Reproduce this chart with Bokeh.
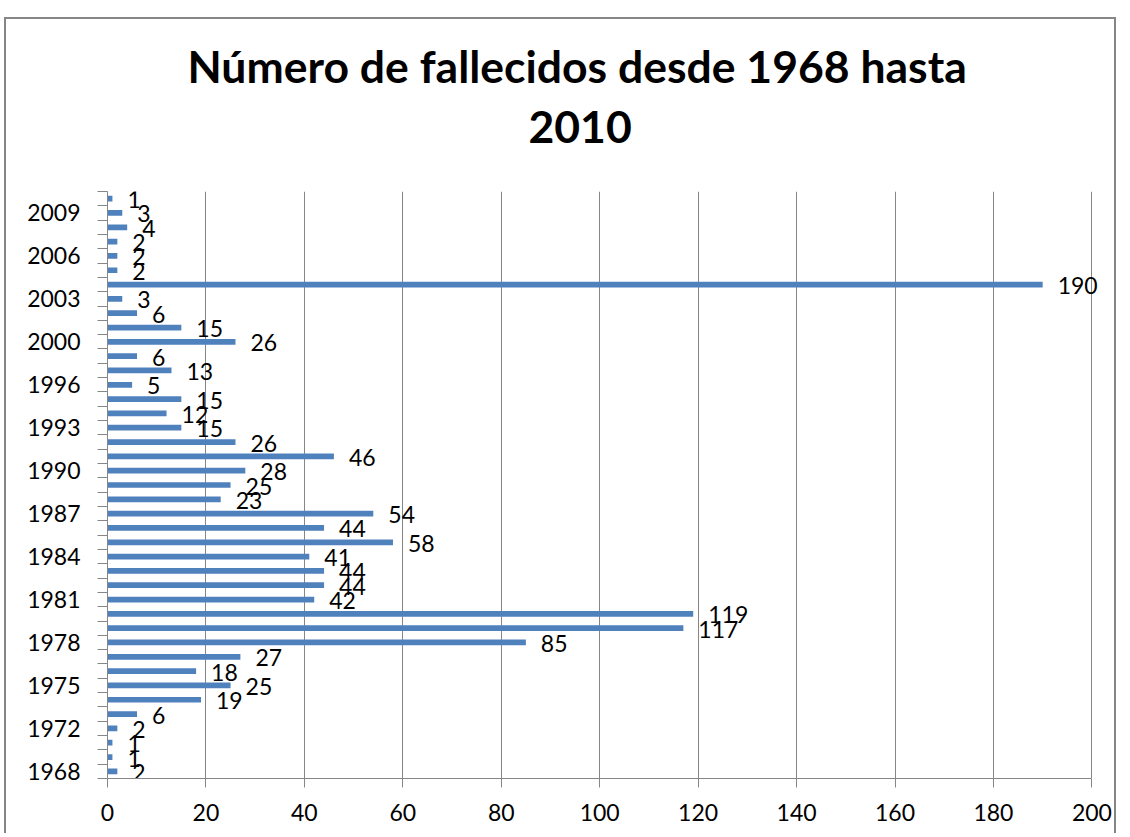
from bokeh.plotting import figure
from bokeh.models import FixedTicker, Range1d, Title
from bokeh.core.properties import value
from bokeh.embed import file_html
from bokeh.resources import INLINE

# Data (bottom to top)
years = [1968, 1970, 1971, 1972, 1973, 1974, 1975, 1976, 1977, 1978,
         1979, 1980, 1981, 1982, 1983, 1984, 1985, 1986, 1987, 1988,
         1989, 1990, 1991, 1992, 1993, 1994, 1995, 1996, 1997, 1999,
         2000, 2001, 2002, 2003, 2004, 2005, 2006, 2007, 2008, 2009, 2010]
deaths = [2, 1, 1, 2, 6, 19, 25, 18, 27, 85,
          117, 119, 42, 44, 44, 41, 58, 44, 54, 23,
          25, 28, 46, 26, 15, 12, 15, 5, 13, 6,
          26, 15, 6, 3, 190, 2, 2, 2, 4, 3, 1]
x_ticks = [0, 20, 40, 60, 80, 100, 120, 140, 160, 180, 200]
title_lines = ["Número de fallecidos desde 1968 hasta", "2010"]

FONT = "Lato"
GRAY = "#868686"

n = len(years)
idx = list(range(n))

W, H = 1112, 816
p = figure(width=W, height=H, output_backend="svg", toolbar_location=None,
           x_range=Range1d(0, 205), y_range=Range1d(-0.5, n - 0.5),
           min_border_left=101, min_border_right=2, min_border_top=172,
           min_border_bottom=57, title=None)
p.outline_line_color = None
p.background_fill_color = "white"
p.border_fill_color = "white"
p.margin = (17, 0, 0, 4)
p.styles = {"border-left": "2px solid #868686",
            "border-top": "2px solid #868686",
            "border-right": "2px solid #868686"}

p.hbar(y=idx, left=0, right=deaths, height=0.4, fill_color="#4F81BD",
       line_color=None)

p.text(x=deaths, y=idx, text=[str(v) for v in deaths], x_offset=15, y_offset=1,
       text_align="left", text_baseline="middle", text_font=value(FONT),
       text_font_size="23px", text_color="black")

# x axis
xa = p.xaxis[0]
xa.ticker = FixedTicker(ticks=x_ticks)
xa.bounds = (x_ticks[0], x_ticks[-1])
xa.axis_line_color = GRAY
xa.major_tick_line_color = GRAY
xa.major_tick_in = 0
xa.major_tick_out = 9
xa.minor_tick_line_color = None
xa.major_label_text_font = FONT
xa.major_label_text_font_size = "23px"
xa.major_label_text_color = "black"
xa.major_label_standoff = 16

# y axis
ya = p.yaxis[0]
ya.ticker = FixedTicker(ticks=[i for i in idx if i % 3 == 0],
                        minor_ticks=[i - 0.5 for i in range(n + 1)])
ya.major_label_overrides = {i: str(years[i]) for i in idx if i % 3 == 0}
ya.axis_line_color = GRAY
ya.major_tick_line_color = None
ya.major_tick_in = 0
ya.major_tick_out = 0
ya.minor_tick_line_color = GRAY
ya.minor_tick_in = 0
ya.minor_tick_out = 10
ya.major_label_text_font = FONT
ya.major_label_text_font_size = "23px"
ya.major_label_text_color = "black"
ya.major_label_standoff = 17

p.ygrid.visible = False
p.xgrid.grid_line_color = GRAY
p.xgrid.grid_line_width = 1

# title: two lines, the later-added one sits further from the frame
for t, so, off in zip(reversed(title_lines), [98, -64], [421, 80]):
    p.add_layout(Title(text=t, align="left", standoff=so, offset=off,
                       text_font=FONT, text_font_style="bold",
                       text_font_size="44.5px", text_color="black"), "above")

open("out.html", "w").write(file_html(p, INLINE))
